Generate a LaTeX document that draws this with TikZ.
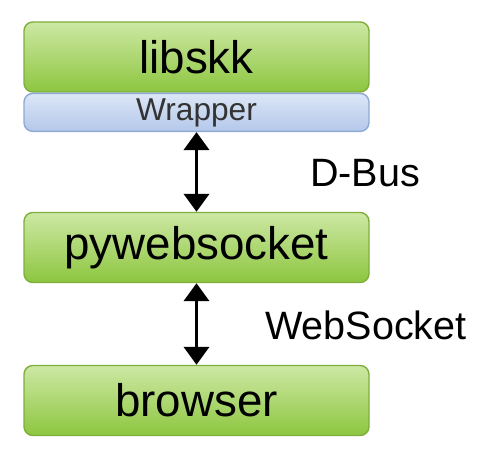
\documentclass[tikz,border=0pt]{standalone}
\usepackage{fontspec}
\setmainfont{Liberation Sans}
\usetikzlibrary{arrows.meta,positioning}
\definecolor{skkgreentop}{HTML}{CDE8A4}
\definecolor{skkgreenbot}{HTML}{8DC63F}
\definecolor{skkgreenline}{HTML}{7FAE3C}
\definecolor{skkbluetop}{HTML}{DCE6F6}
\definecolor{skkbluebot}{HTML}{B3C8EA}
\definecolor{skkblueline}{HTML}{8EA9D4}
\tikzset{
  layer/.style={
    draw=skkgreenline,
    top color=skkgreentop,
    bottom color=skkgreenbot,
    rounded corners=5pt,
    line width=0.8pt,
    minimum width=6.9cm,
    minimum height=1.4cm,
    font=\fontsize{26}{30}\selectfont,
    inner sep=0pt
  },
  wrapbox/.style={
    draw=skkblueline,
    top color=skkbluetop,
    bottom color=skkbluebot,
    rounded corners=5pt,
    line width=0.8pt,
    minimum width=6.9cm,
    minimum height=0.76cm,
    font=\fontsize{18}{21}\selectfont,
    text=black!80,
    inner sep=0pt
  },
  link/.style={
    {Triangle[length=0.36cm,width=0.5cm]}-{Triangle[length=0.36cm,width=0.5cm]},
    line width=2.2pt
  },
  linklabel/.style={
    font=\fontsize{22.5}{26}\selectfont
  }
}

\begin{document}
\begin{tikzpicture}
\useasboundingbox (0,0) rectangle (10,-9.22);

\node[layer] (libskk) at (3.93,-1.14) {libskk};
\node[wrapbox, below=0pt of libskk] (wrapper) {Wrapper};
\node[layer] (pyws) at (3.93,-4.95) {pywebsocket};
\node[layer] (browser) at (3.93,-8.01) {browser};

\draw[link] (wrapper.south) -- (pyws.north);
\draw[link] (pyws.south) -- (browser.north);

\node[linklabel] (dbus) at (7.3,-3.46) {D-Bus};
\node[linklabel] (websocket) at (7.32,-6.5) {WebSocket};

\end{tikzpicture}
\end{document}
